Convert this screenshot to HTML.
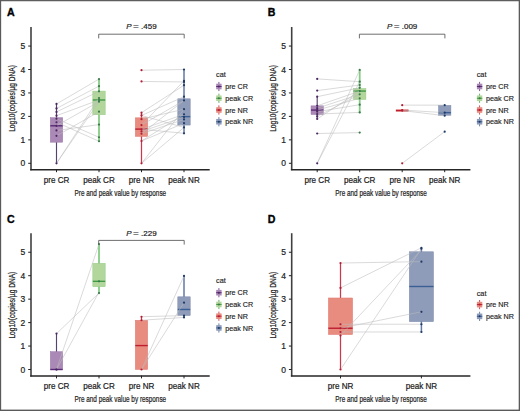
<!DOCTYPE html><html><head><meta charset="utf-8"><style>html,body{margin:0;padding:0;background:#fff;width:520px;height:411px;overflow:hidden}svg{display:block}text{font-family:"Liberation Sans",sans-serif}</style></head><body>
<svg width="520" height="411" viewBox="0 0 520 411">
<rect x="0" y="0" width="520" height="411" fill="#fff"/>
<g>
<text x="7" y="15.9" font-size="10.6" font-weight="bold" fill="#000" stroke="#000" stroke-width="0.35">A</text>
<line x1="56.5" y1="103.97" x2="56.5" y2="163.30" stroke="#56426a" stroke-width="1.15"/>
<rect x="50.30" y="117.69" width="12.4" height="24.51" fill="#ab89b6" stroke="#9a78a8" stroke-width="0.5"/>
<line x1="50.30" y1="125.78" x2="62.70" y2="125.78" stroke="#5a2a78" stroke-width="1.4"/>
<line x1="99" y1="79.11" x2="99" y2="141.26" stroke="#84cc84" stroke-width="1.8"/>
<rect x="92.80" y="91.07" width="12.4" height="23.68" fill="#b2d69b" stroke="#98cc88" stroke-width="0.5"/>
<line x1="92.80" y1="99.99" x2="105.20" y2="99.99" stroke="#3f9a45" stroke-width="1.4"/>
<line x1="141.5" y1="112.65" x2="141.5" y2="163.30" stroke="#c8384f" stroke-width="1.25"/>
<rect x="135.30" y="117.81" width="12.4" height="18.60" fill="#e88c80" stroke="#e07870" stroke-width="0.5"/>
<line x1="135.30" y1="129.11" x2="147.70" y2="129.11" stroke="#be1e30" stroke-width="1.4"/>
<line x1="184" y1="69.50" x2="184" y2="133.28" stroke="#6478a6" stroke-width="1.5"/>
<rect x="177.80" y="98.81" width="12.4" height="26.26" fill="#8e9bb9" stroke="#7c8aac" stroke-width="0.5"/>
<line x1="177.80" y1="116.63" x2="190.20" y2="116.63" stroke="#3a5f95" stroke-width="1.4"/>
<line x1="56.50" y1="103.97" x2="99.00" y2="79.11" stroke="#bcbcbc" stroke-width="0.65" stroke-opacity="0.85"/>
<line x1="56.50" y1="108.43" x2="99.00" y2="86.15" stroke="#bcbcbc" stroke-width="0.65" stroke-opacity="0.85"/>
<line x1="56.50" y1="111.94" x2="99.00" y2="91.31" stroke="#bcbcbc" stroke-width="0.65" stroke-opacity="0.85"/>
<line x1="56.50" y1="115.70" x2="99.00" y2="99.99" stroke="#bcbcbc" stroke-width="0.65" stroke-opacity="0.85"/>
<line x1="56.50" y1="118.75" x2="99.00" y2="137.27" stroke="#bcbcbc" stroke-width="0.65" stroke-opacity="0.85"/>
<line x1="56.50" y1="122.26" x2="99.00" y2="141.26" stroke="#bcbcbc" stroke-width="0.65" stroke-opacity="0.85"/>
<line x1="56.50" y1="125.78" x2="99.00" y2="101.63" stroke="#bcbcbc" stroke-width="0.65" stroke-opacity="0.85"/>
<line x1="56.50" y1="130.47" x2="99.00" y2="124.61" stroke="#bcbcbc" stroke-width="0.65" stroke-opacity="0.85"/>
<line x1="56.50" y1="135.86" x2="99.00" y2="111.71" stroke="#bcbcbc" stroke-width="0.65" stroke-opacity="0.85"/>
<line x1="56.50" y1="163.30" x2="99.00" y2="98.11" stroke="#bcbcbc" stroke-width="0.65" stroke-opacity="0.85"/>
<line x1="56.50" y1="163.30" x2="99.00" y2="101.63" stroke="#bcbcbc" stroke-width="0.65" stroke-opacity="0.85"/>
<line x1="141.50" y1="70.20" x2="184.00" y2="69.50" stroke="#bcbcbc" stroke-width="0.65" stroke-opacity="0.85"/>
<line x1="141.50" y1="81.46" x2="184.00" y2="81.93" stroke="#bcbcbc" stroke-width="0.65" stroke-opacity="0.85"/>
<line x1="141.50" y1="112.65" x2="184.00" y2="85.21" stroke="#bcbcbc" stroke-width="0.65" stroke-opacity="0.85"/>
<line x1="141.50" y1="115.46" x2="184.00" y2="96.70" stroke="#bcbcbc" stroke-width="0.65" stroke-opacity="0.85"/>
<line x1="141.50" y1="119.21" x2="184.00" y2="109.13" stroke="#bcbcbc" stroke-width="0.65" stroke-opacity="0.85"/>
<line x1="141.50" y1="125.08" x2="184.00" y2="100.45" stroke="#bcbcbc" stroke-width="0.65" stroke-opacity="0.85"/>
<line x1="141.50" y1="129.30" x2="184.00" y2="114.29" stroke="#bcbcbc" stroke-width="0.65" stroke-opacity="0.85"/>
<line x1="141.50" y1="131.41" x2="184.00" y2="117.10" stroke="#bcbcbc" stroke-width="0.65" stroke-opacity="0.85"/>
<line x1="141.50" y1="133.75" x2="184.00" y2="119.45" stroke="#bcbcbc" stroke-width="0.65" stroke-opacity="0.85"/>
<line x1="141.50" y1="141.02" x2="184.00" y2="123.20" stroke="#bcbcbc" stroke-width="0.65" stroke-opacity="0.85"/>
<line x1="141.50" y1="163.30" x2="184.00" y2="109.13" stroke="#bcbcbc" stroke-width="0.65" stroke-opacity="0.85"/>
<line x1="141.50" y1="163.30" x2="184.00" y2="127.42" stroke="#bcbcbc" stroke-width="0.65" stroke-opacity="0.85"/>
<line x1="141.50" y1="129.30" x2="184.00" y2="133.28" stroke="#bcbcbc" stroke-width="0.65" stroke-opacity="0.85"/>
<line x1="141.50" y1="125.08" x2="184.00" y2="80.76" stroke="#bcbcbc" stroke-width="0.65" stroke-opacity="0.85"/>
<line x1="141.50" y1="115.46" x2="184.00" y2="127.42" stroke="#bcbcbc" stroke-width="0.65" stroke-opacity="0.85"/>
<line x1="141.50" y1="133.75" x2="184.00" y2="100.45" stroke="#bcbcbc" stroke-width="0.65" stroke-opacity="0.85"/>
<line x1="141.50" y1="141.02" x2="184.00" y2="114.29" stroke="#bcbcbc" stroke-width="0.65" stroke-opacity="0.85"/>
<circle cx="56.5" cy="103.97" r="1.1" fill="#4a2560"/>
<circle cx="56.5" cy="108.43" r="1.1" fill="#4a2560"/>
<circle cx="56.5" cy="111.94" r="1.1" fill="#4a2560"/>
<circle cx="56.5" cy="115.70" r="1.1" fill="#4a2560"/>
<circle cx="56.5" cy="118.75" r="1.1" fill="#4a2560"/>
<circle cx="56.5" cy="122.26" r="1.1" fill="#4a2560"/>
<circle cx="56.5" cy="125.78" r="1.1" fill="#4a2560"/>
<circle cx="56.5" cy="130.47" r="1.1" fill="#4a2560"/>
<circle cx="56.5" cy="135.86" r="1.1" fill="#4a2560"/>
<circle cx="56.5" cy="163.30" r="1.1" fill="#4a2560"/>
<circle cx="99" cy="79.11" r="1.1" fill="#3a7a4a"/>
<circle cx="99" cy="86.15" r="1.1" fill="#3a7a4a"/>
<circle cx="99" cy="91.31" r="1.1" fill="#3a7a4a"/>
<circle cx="99" cy="98.11" r="1.1" fill="#3a7a4a"/>
<circle cx="99" cy="99.99" r="1.1" fill="#3a7a4a"/>
<circle cx="99" cy="101.63" r="1.1" fill="#3a7a4a"/>
<circle cx="99" cy="111.71" r="1.1" fill="#3a7a4a"/>
<circle cx="99" cy="124.61" r="1.1" fill="#3a7a4a"/>
<circle cx="99" cy="137.27" r="1.1" fill="#3a7a4a"/>
<circle cx="99" cy="141.26" r="1.1" fill="#3a7a4a"/>
<circle cx="141.5" cy="70.20" r="1.1" fill="#b41c34"/>
<circle cx="141.5" cy="81.46" r="1.1" fill="#b41c34"/>
<circle cx="141.5" cy="112.65" r="1.1" fill="#b41c34"/>
<circle cx="141.5" cy="115.46" r="1.1" fill="#b41c34"/>
<circle cx="141.5" cy="119.21" r="1.1" fill="#b41c34"/>
<circle cx="141.5" cy="125.08" r="1.1" fill="#b41c34"/>
<circle cx="141.5" cy="129.30" r="1.1" fill="#b41c34"/>
<circle cx="141.5" cy="131.41" r="1.1" fill="#b41c34"/>
<circle cx="141.5" cy="133.75" r="1.1" fill="#b41c34"/>
<circle cx="141.5" cy="141.02" r="1.1" fill="#b41c34"/>
<circle cx="141.5" cy="163.30" r="1.1" fill="#b41c34"/>
<circle cx="184" cy="69.50" r="1.1" fill="#1f3a66"/>
<circle cx="184" cy="80.76" r="1.1" fill="#1f3a66"/>
<circle cx="184" cy="81.93" r="1.1" fill="#1f3a66"/>
<circle cx="184" cy="85.21" r="1.1" fill="#1f3a66"/>
<circle cx="184" cy="96.70" r="1.1" fill="#1f3a66"/>
<circle cx="184" cy="100.45" r="1.1" fill="#1f3a66"/>
<circle cx="184" cy="109.13" r="1.1" fill="#1f3a66"/>
<circle cx="184" cy="114.29" r="1.1" fill="#1f3a66"/>
<circle cx="184" cy="117.10" r="1.1" fill="#1f3a66"/>
<circle cx="184" cy="119.45" r="1.1" fill="#1f3a66"/>
<circle cx="184" cy="123.20" r="1.1" fill="#1f3a66"/>
<circle cx="184" cy="127.42" r="1.1" fill="#1f3a66"/>
<circle cx="184" cy="133.28" r="1.1" fill="#1f3a66"/>
<line x1="31" y1="27" x2="31" y2="170.20000000000002" stroke="#404040" stroke-width="1.6"/>
<line x1="30.2" y1="169.70000000000002" x2="209.7" y2="169.70000000000002" stroke="#262626" stroke-width="1.5"/>
<line x1="28.2" y1="163.30" x2="31" y2="163.30" stroke="#222" stroke-width="1.0"/>
<text transform="translate(25.2,166.30) scale(1,1.06)" font-size="8.5" text-anchor="end" fill="#222" stroke="#222" stroke-width="0.2">0</text>
<line x1="28.2" y1="139.85" x2="31" y2="139.85" stroke="#222" stroke-width="1.0"/>
<text transform="translate(25.2,142.85) scale(1,1.06)" font-size="8.5" text-anchor="end" fill="#222" stroke="#222" stroke-width="0.2">1</text>
<line x1="28.2" y1="116.40" x2="31" y2="116.40" stroke="#222" stroke-width="1.0"/>
<text transform="translate(25.2,119.40) scale(1,1.06)" font-size="8.5" text-anchor="end" fill="#222" stroke="#222" stroke-width="0.2">2</text>
<line x1="28.2" y1="92.95" x2="31" y2="92.95" stroke="#222" stroke-width="1.0"/>
<text transform="translate(25.2,95.95) scale(1,1.06)" font-size="8.5" text-anchor="end" fill="#222" stroke="#222" stroke-width="0.2">3</text>
<line x1="28.2" y1="69.50" x2="31" y2="69.50" stroke="#222" stroke-width="1.0"/>
<text transform="translate(25.2,72.50) scale(1,1.06)" font-size="8.5" text-anchor="end" fill="#222" stroke="#222" stroke-width="0.2">4</text>
<line x1="28.2" y1="46.05" x2="31" y2="46.05" stroke="#222" stroke-width="1.0"/>
<text transform="translate(25.2,49.05) scale(1,1.06)" font-size="8.5" text-anchor="end" fill="#222" stroke="#222" stroke-width="0.2">5</text>
<line x1="56.5" y1="169.4" x2="56.5" y2="172.20000000000002" stroke="#222" stroke-width="1.0"/>
<text transform="translate(56.5,182.90) scale(1,1.12)" font-size="8.1" text-anchor="middle" fill="#222" stroke="#222" stroke-width="0.2">pre CR</text>
<line x1="99" y1="169.4" x2="99" y2="172.20000000000002" stroke="#222" stroke-width="1.0"/>
<text transform="translate(99,182.90) scale(1,1.12)" font-size="8.1" text-anchor="middle" fill="#222" stroke="#222" stroke-width="0.2">peak CR</text>
<line x1="141.5" y1="169.4" x2="141.5" y2="172.20000000000002" stroke="#222" stroke-width="1.0"/>
<text transform="translate(141.5,182.90) scale(1,1.12)" font-size="8.1" text-anchor="middle" fill="#222" stroke="#222" stroke-width="0.2">pre NR</text>
<line x1="184" y1="169.4" x2="184" y2="172.20000000000002" stroke="#222" stroke-width="1.0"/>
<text transform="translate(184,182.90) scale(1,1.12)" font-size="8.1" text-anchor="middle" fill="#222" stroke="#222" stroke-width="0.2">peak NR</text>
<text transform="translate(120.35,195.80) scale(1,1.04)" font-size="9.3" text-anchor="middle" fill="#222" stroke="#222" stroke-width="0.22" textLength="91.6" lengthAdjust="spacingAndGlyphs">Pre and peak value by response</text>
<text transform="translate(14.9,98.45) rotate(-90)" x="0" y="0" font-size="9" text-anchor="middle" fill="#222" stroke="#222" stroke-width="0.22" textLength="66.8" lengthAdjust="spacingAndGlyphs">Log10(copies/µg DNA)</text>
<path d="M98.7,38.400000000000006 V34.2 H184.2 V38.400000000000006" fill="none" stroke="#555" stroke-width="0.85"/>
<text transform="translate(141.45,29.30)" font-size="8" text-anchor="middle" fill="#222" stroke="#222" stroke-width="0.2"><tspan font-style="italic">P</tspan><tspan dx="1.4" textLength="5.8" lengthAdjust="spacingAndGlyphs">=</tspan> .459</text>
<text transform="translate(216,76.90)" font-size="7.3" fill="#222" stroke="#222" stroke-width="0.15">cat</text>
<line x1="218.9" y1="81.9" x2="218.9" y2="91.1" stroke="#5a2a78" stroke-width="0.8"/>
<rect x="216.2" y="83.7" width="5.4" height="5.6" fill="#ab89b6"/>
<line x1="216.2" y1="86.5" x2="221.6" y2="86.5" stroke="#5a2a78" stroke-width="1"/>
<circle cx="218.9" cy="86.5" r="1" fill="#4a2560"/>
<text transform="translate(225.2,89.10) scale(1,1.12)" font-size="7.2" fill="#222" stroke="#222" stroke-width="0.15">pre CR</text>
<line x1="218.9" y1="93.65" x2="218.9" y2="102.85" stroke="#3f9a45" stroke-width="0.8"/>
<rect x="216.2" y="95.45" width="5.4" height="5.6" fill="#b2d69b"/>
<line x1="216.2" y1="98.25" x2="221.6" y2="98.25" stroke="#3f9a45" stroke-width="1"/>
<circle cx="218.9" cy="98.25" r="1" fill="#3a7a4a"/>
<text transform="translate(225.2,100.85) scale(1,1.12)" font-size="7.2" fill="#222" stroke="#222" stroke-width="0.15">peak CR</text>
<line x1="218.9" y1="105.4" x2="218.9" y2="114.6" stroke="#be1e30" stroke-width="0.8"/>
<rect x="216.2" y="107.2" width="5.4" height="5.6" fill="#e88c80"/>
<line x1="216.2" y1="110.0" x2="221.6" y2="110.0" stroke="#be1e30" stroke-width="1"/>
<circle cx="218.9" cy="110.0" r="1" fill="#b41c34"/>
<text transform="translate(225.2,112.60) scale(1,1.12)" font-size="7.2" fill="#222" stroke="#222" stroke-width="0.15">pre NR</text>
<line x1="218.9" y1="117.15" x2="218.9" y2="126.35" stroke="#3a5f95" stroke-width="0.8"/>
<rect x="216.2" y="118.95" width="5.4" height="5.6" fill="#8e9bb9"/>
<line x1="216.2" y1="121.75" x2="221.6" y2="121.75" stroke="#3a5f95" stroke-width="1"/>
<circle cx="218.9" cy="121.75" r="1" fill="#1f3a66"/>
<text transform="translate(225.2,124.35) scale(1,1.12)" font-size="7.2" fill="#222" stroke="#222" stroke-width="0.15">peak NR</text>
<text x="267.7" y="15.9" font-size="10.6" font-weight="bold" fill="#000" stroke="#000" stroke-width="0.35">B</text>
<line x1="317.2" y1="96.70" x2="317.2" y2="118.98" stroke="#56426a" stroke-width="1.15"/>
<rect x="311.00" y="105.85" width="12.4" height="8.68" fill="#ab89b6" stroke="#9a78a8" stroke-width="0.5"/>
<line x1="311.00" y1="110.07" x2="323.40" y2="110.07" stroke="#5a2a78" stroke-width="1.4"/>
<line x1="359.7" y1="69.97" x2="359.7" y2="113.12" stroke="#84cc84" stroke-width="1.8"/>
<rect x="353.50" y="88.49" width="12.4" height="11.02" fill="#b2d69b" stroke="#98cc88" stroke-width="0.5"/>
<line x1="353.50" y1="91.07" x2="365.90" y2="91.07" stroke="#3f9a45" stroke-width="1.4"/>
<line x1="402.2" y1="110.54" x2="402.2" y2="110.54" stroke="#c8384f" stroke-width="1.25"/>
<rect x="396.00" y="109.83" width="12.4" height="1.41" fill="#e88c80" stroke="#e07870" stroke-width="0.5"/>
<line x1="396.00" y1="110.54" x2="408.40" y2="110.54" stroke="#be1e30" stroke-width="1.4"/>
<line x1="444.7" y1="105.14" x2="444.7" y2="115.70" stroke="#6478a6" stroke-width="1.5"/>
<rect x="438.50" y="105.38" width="12.4" height="9.85" fill="#8e9bb9" stroke="#7c8aac" stroke-width="0.5"/>
<line x1="438.50" y1="112.65" x2="450.90" y2="112.65" stroke="#3a5f95" stroke-width="1.4"/>
<line x1="317.20" y1="78.88" x2="359.70" y2="81.69" stroke="#bcbcbc" stroke-width="0.65" stroke-opacity="0.85"/>
<line x1="317.20" y1="90.61" x2="359.70" y2="84.98" stroke="#bcbcbc" stroke-width="0.65" stroke-opacity="0.85"/>
<line x1="317.20" y1="96.70" x2="359.70" y2="87.79" stroke="#bcbcbc" stroke-width="0.65" stroke-opacity="0.85"/>
<line x1="317.20" y1="105.85" x2="359.70" y2="91.07" stroke="#bcbcbc" stroke-width="0.65" stroke-opacity="0.85"/>
<line x1="317.20" y1="108.19" x2="359.70" y2="94.36" stroke="#bcbcbc" stroke-width="0.65" stroke-opacity="0.85"/>
<line x1="317.20" y1="110.07" x2="359.70" y2="98.34" stroke="#bcbcbc" stroke-width="0.65" stroke-opacity="0.85"/>
<line x1="317.20" y1="111.71" x2="359.70" y2="104.68" stroke="#bcbcbc" stroke-width="0.65" stroke-opacity="0.85"/>
<line x1="317.20" y1="114.06" x2="359.70" y2="112.41" stroke="#bcbcbc" stroke-width="0.65" stroke-opacity="0.85"/>
<line x1="317.20" y1="118.98" x2="359.70" y2="91.07" stroke="#bcbcbc" stroke-width="0.65" stroke-opacity="0.85"/>
<line x1="317.20" y1="133.52" x2="359.70" y2="132.58" stroke="#bcbcbc" stroke-width="0.65" stroke-opacity="0.85"/>
<line x1="317.20" y1="163.30" x2="359.70" y2="69.97" stroke="#bcbcbc" stroke-width="0.65" stroke-opacity="0.85"/>
<line x1="317.20" y1="163.30" x2="359.70" y2="81.69" stroke="#bcbcbc" stroke-width="0.65" stroke-opacity="0.85"/>
<line x1="317.20" y1="116.40" x2="359.70" y2="94.36" stroke="#bcbcbc" stroke-width="0.65" stroke-opacity="0.85"/>
<line x1="402.20" y1="105.14" x2="444.70" y2="105.14" stroke="#bcbcbc" stroke-width="0.65" stroke-opacity="0.85"/>
<line x1="402.20" y1="110.07" x2="444.70" y2="112.65" stroke="#bcbcbc" stroke-width="0.65" stroke-opacity="0.85"/>
<line x1="402.20" y1="110.54" x2="444.70" y2="115.70" stroke="#bcbcbc" stroke-width="0.65" stroke-opacity="0.85"/>
<line x1="402.20" y1="163.30" x2="444.70" y2="131.64" stroke="#bcbcbc" stroke-width="0.65" stroke-opacity="0.85"/>
<circle cx="317.2" cy="78.88" r="1.1" fill="#4a2560"/>
<circle cx="317.2" cy="90.61" r="1.1" fill="#4a2560"/>
<circle cx="317.2" cy="96.70" r="1.1" fill="#4a2560"/>
<circle cx="317.2" cy="105.85" r="1.1" fill="#4a2560"/>
<circle cx="317.2" cy="108.19" r="1.1" fill="#4a2560"/>
<circle cx="317.2" cy="110.07" r="1.1" fill="#4a2560"/>
<circle cx="317.2" cy="111.71" r="1.1" fill="#4a2560"/>
<circle cx="317.2" cy="114.06" r="1.1" fill="#4a2560"/>
<circle cx="317.2" cy="116.40" r="1.1" fill="#4a2560"/>
<circle cx="317.2" cy="118.98" r="1.1" fill="#4a2560"/>
<circle cx="317.2" cy="133.52" r="1.1" fill="#4a2560"/>
<circle cx="317.2" cy="163.30" r="1.1" fill="#4a2560"/>
<circle cx="359.7" cy="69.97" r="1.1" fill="#3a7a4a"/>
<circle cx="359.7" cy="81.69" r="1.1" fill="#3a7a4a"/>
<circle cx="359.7" cy="84.98" r="1.1" fill="#3a7a4a"/>
<circle cx="359.7" cy="87.79" r="1.1" fill="#3a7a4a"/>
<circle cx="359.7" cy="91.07" r="1.1" fill="#3a7a4a"/>
<circle cx="359.7" cy="94.36" r="1.1" fill="#3a7a4a"/>
<circle cx="359.7" cy="98.34" r="1.1" fill="#3a7a4a"/>
<circle cx="359.7" cy="104.68" r="1.1" fill="#3a7a4a"/>
<circle cx="359.7" cy="112.41" r="1.1" fill="#3a7a4a"/>
<circle cx="359.7" cy="132.58" r="1.1" fill="#3a7a4a"/>
<circle cx="402.2" cy="105.14" r="1.1" fill="#b41c34"/>
<circle cx="402.2" cy="110.07" r="1.1" fill="#b41c34"/>
<circle cx="402.2" cy="110.54" r="1.1" fill="#b41c34"/>
<circle cx="402.2" cy="163.30" r="1.1" fill="#b41c34"/>
<circle cx="444.7" cy="105.14" r="1.1" fill="#1f3a66"/>
<circle cx="444.7" cy="112.65" r="1.1" fill="#1f3a66"/>
<circle cx="444.7" cy="115.70" r="1.1" fill="#1f3a66"/>
<circle cx="444.7" cy="131.64" r="1.1" fill="#1f3a66"/>
<line x1="291.7" y1="27" x2="291.7" y2="170.20000000000002" stroke="#404040" stroke-width="1.6"/>
<line x1="290.9" y1="169.70000000000002" x2="470.4" y2="169.70000000000002" stroke="#262626" stroke-width="1.5"/>
<line x1="288.9" y1="163.30" x2="291.7" y2="163.30" stroke="#222" stroke-width="1.0"/>
<text transform="translate(285.9,166.30) scale(1,1.06)" font-size="8.5" text-anchor="end" fill="#222" stroke="#222" stroke-width="0.2">0</text>
<line x1="288.9" y1="139.85" x2="291.7" y2="139.85" stroke="#222" stroke-width="1.0"/>
<text transform="translate(285.9,142.85) scale(1,1.06)" font-size="8.5" text-anchor="end" fill="#222" stroke="#222" stroke-width="0.2">1</text>
<line x1="288.9" y1="116.40" x2="291.7" y2="116.40" stroke="#222" stroke-width="1.0"/>
<text transform="translate(285.9,119.40) scale(1,1.06)" font-size="8.5" text-anchor="end" fill="#222" stroke="#222" stroke-width="0.2">2</text>
<line x1="288.9" y1="92.95" x2="291.7" y2="92.95" stroke="#222" stroke-width="1.0"/>
<text transform="translate(285.9,95.95) scale(1,1.06)" font-size="8.5" text-anchor="end" fill="#222" stroke="#222" stroke-width="0.2">3</text>
<line x1="288.9" y1="69.50" x2="291.7" y2="69.50" stroke="#222" stroke-width="1.0"/>
<text transform="translate(285.9,72.50) scale(1,1.06)" font-size="8.5" text-anchor="end" fill="#222" stroke="#222" stroke-width="0.2">4</text>
<line x1="288.9" y1="46.05" x2="291.7" y2="46.05" stroke="#222" stroke-width="1.0"/>
<text transform="translate(285.9,49.05) scale(1,1.06)" font-size="8.5" text-anchor="end" fill="#222" stroke="#222" stroke-width="0.2">5</text>
<line x1="317.2" y1="169.4" x2="317.2" y2="172.20000000000002" stroke="#222" stroke-width="1.0"/>
<text transform="translate(317.2,182.90) scale(1,1.12)" font-size="8.1" text-anchor="middle" fill="#222" stroke="#222" stroke-width="0.2">pre CR</text>
<line x1="359.7" y1="169.4" x2="359.7" y2="172.20000000000002" stroke="#222" stroke-width="1.0"/>
<text transform="translate(359.7,182.90) scale(1,1.12)" font-size="8.1" text-anchor="middle" fill="#222" stroke="#222" stroke-width="0.2">peak CR</text>
<line x1="402.2" y1="169.4" x2="402.2" y2="172.20000000000002" stroke="#222" stroke-width="1.0"/>
<text transform="translate(402.2,182.90) scale(1,1.12)" font-size="8.1" text-anchor="middle" fill="#222" stroke="#222" stroke-width="0.2">pre NR</text>
<line x1="444.7" y1="169.4" x2="444.7" y2="172.20000000000002" stroke="#222" stroke-width="1.0"/>
<text transform="translate(444.7,182.90) scale(1,1.12)" font-size="8.1" text-anchor="middle" fill="#222" stroke="#222" stroke-width="0.2">peak NR</text>
<text transform="translate(381.05,195.80) scale(1,1.04)" font-size="9.3" text-anchor="middle" fill="#222" stroke="#222" stroke-width="0.22" textLength="91.6" lengthAdjust="spacingAndGlyphs">Pre and peak value by response</text>
<text transform="translate(275.59999999999997,98.45) rotate(-90)" x="0" y="0" font-size="9" text-anchor="middle" fill="#222" stroke="#222" stroke-width="0.22" textLength="66.8" lengthAdjust="spacingAndGlyphs">Log10(copies/µg DNA)</text>
<path d="M359.4,38.400000000000006 V34.2 H444.9 V38.400000000000006" fill="none" stroke="#555" stroke-width="0.85"/>
<text transform="translate(402.15,29.30)" font-size="8" text-anchor="middle" fill="#222" stroke="#222" stroke-width="0.2"><tspan font-style="italic">P</tspan><tspan dx="1.4" textLength="5.8" lengthAdjust="spacingAndGlyphs">=</tspan> .009</text>
<text transform="translate(476.7,76.90)" font-size="7.3" fill="#222" stroke="#222" stroke-width="0.15">cat</text>
<line x1="479.59999999999997" y1="81.9" x2="479.59999999999997" y2="91.1" stroke="#5a2a78" stroke-width="0.8"/>
<rect x="476.9" y="83.7" width="5.4" height="5.6" fill="#ab89b6"/>
<line x1="476.9" y1="86.5" x2="482.3" y2="86.5" stroke="#5a2a78" stroke-width="1"/>
<circle cx="479.59999999999997" cy="86.5" r="1" fill="#4a2560"/>
<text transform="translate(485.9,89.10) scale(1,1.12)" font-size="7.2" fill="#222" stroke="#222" stroke-width="0.15">pre CR</text>
<line x1="479.59999999999997" y1="93.65" x2="479.59999999999997" y2="102.85" stroke="#3f9a45" stroke-width="0.8"/>
<rect x="476.9" y="95.45" width="5.4" height="5.6" fill="#b2d69b"/>
<line x1="476.9" y1="98.25" x2="482.3" y2="98.25" stroke="#3f9a45" stroke-width="1"/>
<circle cx="479.59999999999997" cy="98.25" r="1" fill="#3a7a4a"/>
<text transform="translate(485.9,100.85) scale(1,1.12)" font-size="7.2" fill="#222" stroke="#222" stroke-width="0.15">peak CR</text>
<line x1="479.59999999999997" y1="105.4" x2="479.59999999999997" y2="114.6" stroke="#be1e30" stroke-width="0.8"/>
<rect x="476.9" y="107.2" width="5.4" height="5.6" fill="#e88c80"/>
<line x1="476.9" y1="110.0" x2="482.3" y2="110.0" stroke="#be1e30" stroke-width="1"/>
<circle cx="479.59999999999997" cy="110.0" r="1" fill="#b41c34"/>
<text transform="translate(485.9,112.60) scale(1,1.12)" font-size="7.2" fill="#222" stroke="#222" stroke-width="0.15">pre NR</text>
<line x1="479.59999999999997" y1="117.15" x2="479.59999999999997" y2="126.35" stroke="#3a5f95" stroke-width="0.8"/>
<rect x="476.9" y="118.95" width="5.4" height="5.6" fill="#8e9bb9"/>
<line x1="476.9" y1="121.75" x2="482.3" y2="121.75" stroke="#3a5f95" stroke-width="1"/>
<circle cx="479.59999999999997" cy="121.75" r="1" fill="#1f3a66"/>
<text transform="translate(485.9,124.35) scale(1,1.12)" font-size="7.2" fill="#222" stroke="#222" stroke-width="0.15">peak NR</text>
<text x="7" y="222.7" font-size="10.6" font-weight="bold" fill="#000" stroke="#000" stroke-width="0.35">C</text>
<line x1="56.5" y1="333.62" x2="56.5" y2="369.50" stroke="#56426a" stroke-width="1.15"/>
<rect x="50.30" y="351.68" width="12.4" height="17.82" fill="#ab89b6" stroke="#9a78a8" stroke-width="0.5"/>
<line x1="50.30" y1="369.50" x2="62.70" y2="369.50" stroke="#5a2a78" stroke-width="1.4"/>
<line x1="99" y1="244.04" x2="99" y2="293.05" stroke="#84cc84" stroke-width="1.8"/>
<rect x="92.80" y="263.27" width="12.4" height="23.45" fill="#b2d69b" stroke="#98cc88" stroke-width="0.5"/>
<line x1="92.80" y1="281.33" x2="105.20" y2="281.33" stroke="#3f9a45" stroke-width="1.4"/>
<line x1="141.5" y1="316.74" x2="141.5" y2="369.50" stroke="#c8384f" stroke-width="1.25"/>
<rect x="135.30" y="320.25" width="12.4" height="49.25" fill="#e88c80" stroke="#e07870" stroke-width="0.5"/>
<line x1="135.30" y1="345.58" x2="147.70" y2="345.58" stroke="#be1e30" stroke-width="1.4"/>
<line x1="184" y1="275.93" x2="184" y2="317.44" stroke="#6478a6" stroke-width="1.5"/>
<rect x="177.80" y="296.81" width="12.4" height="18.76" fill="#8e9bb9" stroke="#7c8aac" stroke-width="0.5"/>
<line x1="177.80" y1="309.47" x2="190.20" y2="309.47" stroke="#3a5f95" stroke-width="1.4"/>
<line x1="56.50" y1="333.62" x2="99.00" y2="293.05" stroke="#bcbcbc" stroke-width="0.65" stroke-opacity="0.85"/>
<line x1="56.50" y1="369.50" x2="99.00" y2="244.04" stroke="#bcbcbc" stroke-width="0.65" stroke-opacity="0.85"/>
<line x1="56.50" y1="369.50" x2="99.00" y2="292.12" stroke="#bcbcbc" stroke-width="0.65" stroke-opacity="0.85"/>
<line x1="141.50" y1="316.74" x2="184.00" y2="315.56" stroke="#bcbcbc" stroke-width="0.65" stroke-opacity="0.85"/>
<line x1="141.50" y1="320.25" x2="184.00" y2="317.44" stroke="#bcbcbc" stroke-width="0.65" stroke-opacity="0.85"/>
<line x1="141.50" y1="369.50" x2="184.00" y2="275.93" stroke="#bcbcbc" stroke-width="0.65" stroke-opacity="0.85"/>
<line x1="141.50" y1="369.50" x2="184.00" y2="302.67" stroke="#bcbcbc" stroke-width="0.65" stroke-opacity="0.85"/>
<circle cx="56.5" cy="333.62" r="1.1" fill="#4a2560"/>
<circle cx="56.5" cy="369.50" r="1.1" fill="#4a2560"/>
<circle cx="56.5" cy="369.50" r="1.1" fill="#4a2560"/>
<circle cx="99" cy="244.04" r="1.1" fill="#3a7a4a"/>
<circle cx="99" cy="281.33" r="1.1" fill="#3a7a4a"/>
<circle cx="99" cy="293.05" r="1.1" fill="#3a7a4a"/>
<circle cx="141.5" cy="316.74" r="1.1" fill="#b41c34"/>
<circle cx="141.5" cy="320.25" r="1.1" fill="#b41c34"/>
<circle cx="141.5" cy="369.50" r="1.1" fill="#b41c34"/>
<circle cx="184" cy="275.93" r="1.1" fill="#1f3a66"/>
<circle cx="184" cy="302.67" r="1.1" fill="#1f3a66"/>
<circle cx="184" cy="315.56" r="1.1" fill="#1f3a66"/>
<circle cx="184" cy="317.44" r="1.1" fill="#1f3a66"/>
<line x1="31" y1="233.2" x2="31" y2="376.40000000000003" stroke="#404040" stroke-width="1.6"/>
<line x1="30.2" y1="375.90000000000003" x2="209.7" y2="375.90000000000003" stroke="#262626" stroke-width="1.5"/>
<line x1="28.2" y1="369.50" x2="31" y2="369.50" stroke="#222" stroke-width="1.0"/>
<text transform="translate(25.2,372.50) scale(1,1.06)" font-size="8.5" text-anchor="end" fill="#222" stroke="#222" stroke-width="0.2">0</text>
<line x1="28.2" y1="346.05" x2="31" y2="346.05" stroke="#222" stroke-width="1.0"/>
<text transform="translate(25.2,349.05) scale(1,1.06)" font-size="8.5" text-anchor="end" fill="#222" stroke="#222" stroke-width="0.2">1</text>
<line x1="28.2" y1="322.60" x2="31" y2="322.60" stroke="#222" stroke-width="1.0"/>
<text transform="translate(25.2,325.60) scale(1,1.06)" font-size="8.5" text-anchor="end" fill="#222" stroke="#222" stroke-width="0.2">2</text>
<line x1="28.2" y1="299.15" x2="31" y2="299.15" stroke="#222" stroke-width="1.0"/>
<text transform="translate(25.2,302.15) scale(1,1.06)" font-size="8.5" text-anchor="end" fill="#222" stroke="#222" stroke-width="0.2">3</text>
<line x1="28.2" y1="275.70" x2="31" y2="275.70" stroke="#222" stroke-width="1.0"/>
<text transform="translate(25.2,278.70) scale(1,1.06)" font-size="8.5" text-anchor="end" fill="#222" stroke="#222" stroke-width="0.2">4</text>
<line x1="28.2" y1="252.25" x2="31" y2="252.25" stroke="#222" stroke-width="1.0"/>
<text transform="translate(25.2,255.25) scale(1,1.06)" font-size="8.5" text-anchor="end" fill="#222" stroke="#222" stroke-width="0.2">5</text>
<line x1="56.5" y1="375.6" x2="56.5" y2="378.40000000000003" stroke="#222" stroke-width="1.0"/>
<text transform="translate(56.5,389.10) scale(1,1.12)" font-size="8.1" text-anchor="middle" fill="#222" stroke="#222" stroke-width="0.2">pre CR</text>
<line x1="99" y1="375.6" x2="99" y2="378.40000000000003" stroke="#222" stroke-width="1.0"/>
<text transform="translate(99,389.10) scale(1,1.12)" font-size="8.1" text-anchor="middle" fill="#222" stroke="#222" stroke-width="0.2">peak CR</text>
<line x1="141.5" y1="375.6" x2="141.5" y2="378.40000000000003" stroke="#222" stroke-width="1.0"/>
<text transform="translate(141.5,389.10) scale(1,1.12)" font-size="8.1" text-anchor="middle" fill="#222" stroke="#222" stroke-width="0.2">pre NR</text>
<line x1="184" y1="375.6" x2="184" y2="378.40000000000003" stroke="#222" stroke-width="1.0"/>
<text transform="translate(184,389.10) scale(1,1.12)" font-size="8.1" text-anchor="middle" fill="#222" stroke="#222" stroke-width="0.2">peak NR</text>
<text transform="translate(120.35,402.00) scale(1,1.04)" font-size="9.3" text-anchor="middle" fill="#222" stroke="#222" stroke-width="0.22" textLength="91.6" lengthAdjust="spacingAndGlyphs">Pre and peak value by response</text>
<text transform="translate(14.9,305.15) rotate(-90)" x="0" y="0" font-size="9" text-anchor="middle" fill="#222" stroke="#222" stroke-width="0.22" textLength="66.8" lengthAdjust="spacingAndGlyphs">Log10(copies/µg DNA)</text>
<path d="M98.7,244.59999999999997 V240.39999999999998 H184.2 V244.59999999999997" fill="none" stroke="#555" stroke-width="0.85"/>
<text transform="translate(141.45,235.50)" font-size="8" text-anchor="middle" fill="#222" stroke="#222" stroke-width="0.2"><tspan font-style="italic">P</tspan><tspan dx="1.4" textLength="5.8" lengthAdjust="spacingAndGlyphs">=</tspan> .229</text>
<text transform="translate(216,283.10)" font-size="7.3" fill="#222" stroke="#222" stroke-width="0.15">cat</text>
<line x1="218.9" y1="288.09999999999997" x2="218.9" y2="297.3" stroke="#5a2a78" stroke-width="0.8"/>
<rect x="216.2" y="289.9" width="5.4" height="5.6" fill="#ab89b6"/>
<line x1="216.2" y1="292.7" x2="221.6" y2="292.7" stroke="#5a2a78" stroke-width="1"/>
<circle cx="218.9" cy="292.7" r="1" fill="#4a2560"/>
<text transform="translate(225.2,295.30) scale(1,1.12)" font-size="7.2" fill="#222" stroke="#222" stroke-width="0.15">pre CR</text>
<line x1="218.9" y1="299.84999999999997" x2="218.9" y2="309.05" stroke="#3f9a45" stroke-width="0.8"/>
<rect x="216.2" y="301.65" width="5.4" height="5.6" fill="#b2d69b"/>
<line x1="216.2" y1="304.45" x2="221.6" y2="304.45" stroke="#3f9a45" stroke-width="1"/>
<circle cx="218.9" cy="304.45" r="1" fill="#3a7a4a"/>
<text transform="translate(225.2,307.05) scale(1,1.12)" font-size="7.2" fill="#222" stroke="#222" stroke-width="0.15">peak CR</text>
<line x1="218.9" y1="311.59999999999997" x2="218.9" y2="320.8" stroke="#be1e30" stroke-width="0.8"/>
<rect x="216.2" y="313.4" width="5.4" height="5.6" fill="#e88c80"/>
<line x1="216.2" y1="316.2" x2="221.6" y2="316.2" stroke="#be1e30" stroke-width="1"/>
<circle cx="218.9" cy="316.2" r="1" fill="#b41c34"/>
<text transform="translate(225.2,318.80) scale(1,1.12)" font-size="7.2" fill="#222" stroke="#222" stroke-width="0.15">pre NR</text>
<line x1="218.9" y1="323.34999999999997" x2="218.9" y2="332.55" stroke="#3a5f95" stroke-width="0.8"/>
<rect x="216.2" y="325.15" width="5.4" height="5.6" fill="#8e9bb9"/>
<line x1="216.2" y1="327.95" x2="221.6" y2="327.95" stroke="#3a5f95" stroke-width="1"/>
<circle cx="218.9" cy="327.95" r="1" fill="#1f3a66"/>
<text transform="translate(225.2,330.55) scale(1,1.12)" font-size="7.2" fill="#222" stroke="#222" stroke-width="0.15">peak NR</text>
<text x="267.7" y="222.7" font-size="10.6" font-weight="bold" fill="#000" stroke="#000" stroke-width="0.35">D</text>
<line x1="340.5" y1="263.04" x2="340.5" y2="369.50" stroke="#c8384f" stroke-width="1.25"/>
<rect x="328.40" y="297.98" width="24.2" height="36.58" fill="#e88c80" stroke="#e07870" stroke-width="0.5"/>
<line x1="328.40" y1="328.23" x2="352.60" y2="328.23" stroke="#be1e30" stroke-width="1.4"/>
<line x1="421.4" y1="247.79" x2="421.4" y2="331.98" stroke="#6478a6" stroke-width="1.5"/>
<rect x="409.30" y="251.78" width="24.2" height="69.88" fill="#8e9bb9" stroke="#7c8aac" stroke-width="0.5"/>
<line x1="409.30" y1="286.49" x2="433.50" y2="286.49" stroke="#3a5f95" stroke-width="1.4"/>
<line x1="340.50" y1="263.04" x2="421.40" y2="261.63" stroke="#bcbcbc" stroke-width="0.65" stroke-opacity="0.85"/>
<line x1="340.50" y1="287.89" x2="421.40" y2="247.79" stroke="#bcbcbc" stroke-width="0.65" stroke-opacity="0.85"/>
<line x1="340.50" y1="324.24" x2="421.40" y2="324.24" stroke="#bcbcbc" stroke-width="0.65" stroke-opacity="0.85"/>
<line x1="340.50" y1="328.23" x2="421.40" y2="311.81" stroke="#bcbcbc" stroke-width="0.65" stroke-opacity="0.85"/>
<line x1="340.50" y1="331.98" x2="421.40" y2="331.98" stroke="#bcbcbc" stroke-width="0.65" stroke-opacity="0.85"/>
<line x1="340.50" y1="335.50" x2="421.40" y2="249.91" stroke="#bcbcbc" stroke-width="0.65" stroke-opacity="0.85"/>
<line x1="340.50" y1="369.50" x2="421.40" y2="248.73" stroke="#bcbcbc" stroke-width="0.65" stroke-opacity="0.85"/>
<circle cx="340.5" cy="263.04" r="1.1" fill="#b41c34"/>
<circle cx="340.5" cy="287.89" r="1.1" fill="#b41c34"/>
<circle cx="340.5" cy="324.24" r="1.1" fill="#b41c34"/>
<circle cx="340.5" cy="328.23" r="1.1" fill="#b41c34"/>
<circle cx="340.5" cy="331.98" r="1.1" fill="#b41c34"/>
<circle cx="340.5" cy="335.50" r="1.1" fill="#b41c34"/>
<circle cx="340.5" cy="369.50" r="1.1" fill="#b41c34"/>
<circle cx="421.4" cy="247.79" r="1.1" fill="#1f3a66"/>
<circle cx="421.4" cy="248.73" r="1.1" fill="#1f3a66"/>
<circle cx="421.4" cy="261.63" r="1.1" fill="#1f3a66"/>
<circle cx="421.4" cy="311.81" r="1.1" fill="#1f3a66"/>
<circle cx="421.4" cy="324.24" r="1.1" fill="#1f3a66"/>
<circle cx="421.4" cy="331.98" r="1.1" fill="#1f3a66"/>
<line x1="291.7" y1="233.2" x2="291.7" y2="376.40000000000003" stroke="#404040" stroke-width="1.6"/>
<line x1="290.9" y1="375.90000000000003" x2="470.4" y2="375.90000000000003" stroke="#262626" stroke-width="1.5"/>
<line x1="288.9" y1="369.50" x2="291.7" y2="369.50" stroke="#222" stroke-width="1.0"/>
<text transform="translate(285.9,372.50) scale(1,1.06)" font-size="8.5" text-anchor="end" fill="#222" stroke="#222" stroke-width="0.2">0</text>
<line x1="288.9" y1="346.05" x2="291.7" y2="346.05" stroke="#222" stroke-width="1.0"/>
<text transform="translate(285.9,349.05) scale(1,1.06)" font-size="8.5" text-anchor="end" fill="#222" stroke="#222" stroke-width="0.2">1</text>
<line x1="288.9" y1="322.60" x2="291.7" y2="322.60" stroke="#222" stroke-width="1.0"/>
<text transform="translate(285.9,325.60) scale(1,1.06)" font-size="8.5" text-anchor="end" fill="#222" stroke="#222" stroke-width="0.2">2</text>
<line x1="288.9" y1="299.15" x2="291.7" y2="299.15" stroke="#222" stroke-width="1.0"/>
<text transform="translate(285.9,302.15) scale(1,1.06)" font-size="8.5" text-anchor="end" fill="#222" stroke="#222" stroke-width="0.2">3</text>
<line x1="288.9" y1="275.70" x2="291.7" y2="275.70" stroke="#222" stroke-width="1.0"/>
<text transform="translate(285.9,278.70) scale(1,1.06)" font-size="8.5" text-anchor="end" fill="#222" stroke="#222" stroke-width="0.2">4</text>
<line x1="288.9" y1="252.25" x2="291.7" y2="252.25" stroke="#222" stroke-width="1.0"/>
<text transform="translate(285.9,255.25) scale(1,1.06)" font-size="8.5" text-anchor="end" fill="#222" stroke="#222" stroke-width="0.2">5</text>
<line x1="340.5" y1="375.6" x2="340.5" y2="378.40000000000003" stroke="#222" stroke-width="1.0"/>
<text transform="translate(340.5,389.10) scale(1,1.12)" font-size="8.1" text-anchor="middle" fill="#222" stroke="#222" stroke-width="0.2">pre NR</text>
<line x1="421.4" y1="375.6" x2="421.4" y2="378.40000000000003" stroke="#222" stroke-width="1.0"/>
<text transform="translate(421.4,389.10) scale(1,1.12)" font-size="8.1" text-anchor="middle" fill="#222" stroke="#222" stroke-width="0.2">peak NR</text>
<text transform="translate(381.05,402.00) scale(1,1.04)" font-size="9.3" text-anchor="middle" fill="#222" stroke="#222" stroke-width="0.22" textLength="91.6" lengthAdjust="spacingAndGlyphs">Pre and peak value by response</text>
<text transform="translate(275.59999999999997,305.15) rotate(-90)" x="0" y="0" font-size="9" text-anchor="middle" fill="#222" stroke="#222" stroke-width="0.22" textLength="66.8" lengthAdjust="spacingAndGlyphs">Log10(copies/µg DNA)</text>
<text transform="translate(476.7,295.60)" font-size="7.3" fill="#222" stroke="#222" stroke-width="0.15">cat</text>
<line x1="479.59999999999997" y1="300.0" x2="479.59999999999997" y2="309.20000000000005" stroke="#be1e30" stroke-width="0.8"/>
<rect x="476.9" y="301.8" width="5.4" height="5.6" fill="#e88c80"/>
<line x1="476.9" y1="304.6" x2="482.3" y2="304.6" stroke="#be1e30" stroke-width="1"/>
<circle cx="479.59999999999997" cy="304.6" r="1" fill="#b41c34"/>
<text transform="translate(485.9,307.20) scale(1,1.12)" font-size="7.2" fill="#222" stroke="#222" stroke-width="0.15">pre NR</text>
<line x1="479.59999999999997" y1="311.75" x2="479.59999999999997" y2="320.95000000000005" stroke="#3a5f95" stroke-width="0.8"/>
<rect x="476.9" y="313.55" width="5.4" height="5.6" fill="#8e9bb9"/>
<line x1="476.9" y1="316.35" x2="482.3" y2="316.35" stroke="#3a5f95" stroke-width="1"/>
<circle cx="479.59999999999997" cy="316.35" r="1" fill="#1f3a66"/>
<text transform="translate(485.9,318.95) scale(1,1.12)" font-size="7.2" fill="#222" stroke="#222" stroke-width="0.15">peak NR</text>
</g>
<rect x="0" y="0" width="520" height="1.25" fill="#5e5e5e"/><rect x="0" y="0" width="1.15" height="411" fill="#5a5a5a"/><rect x="518.7" y="0" width="1.3" height="411" fill="#5a5a5a"/><rect x="0" y="409.6" width="520" height="1.4" fill="#5a5a5a"/>
</svg></body></html>
